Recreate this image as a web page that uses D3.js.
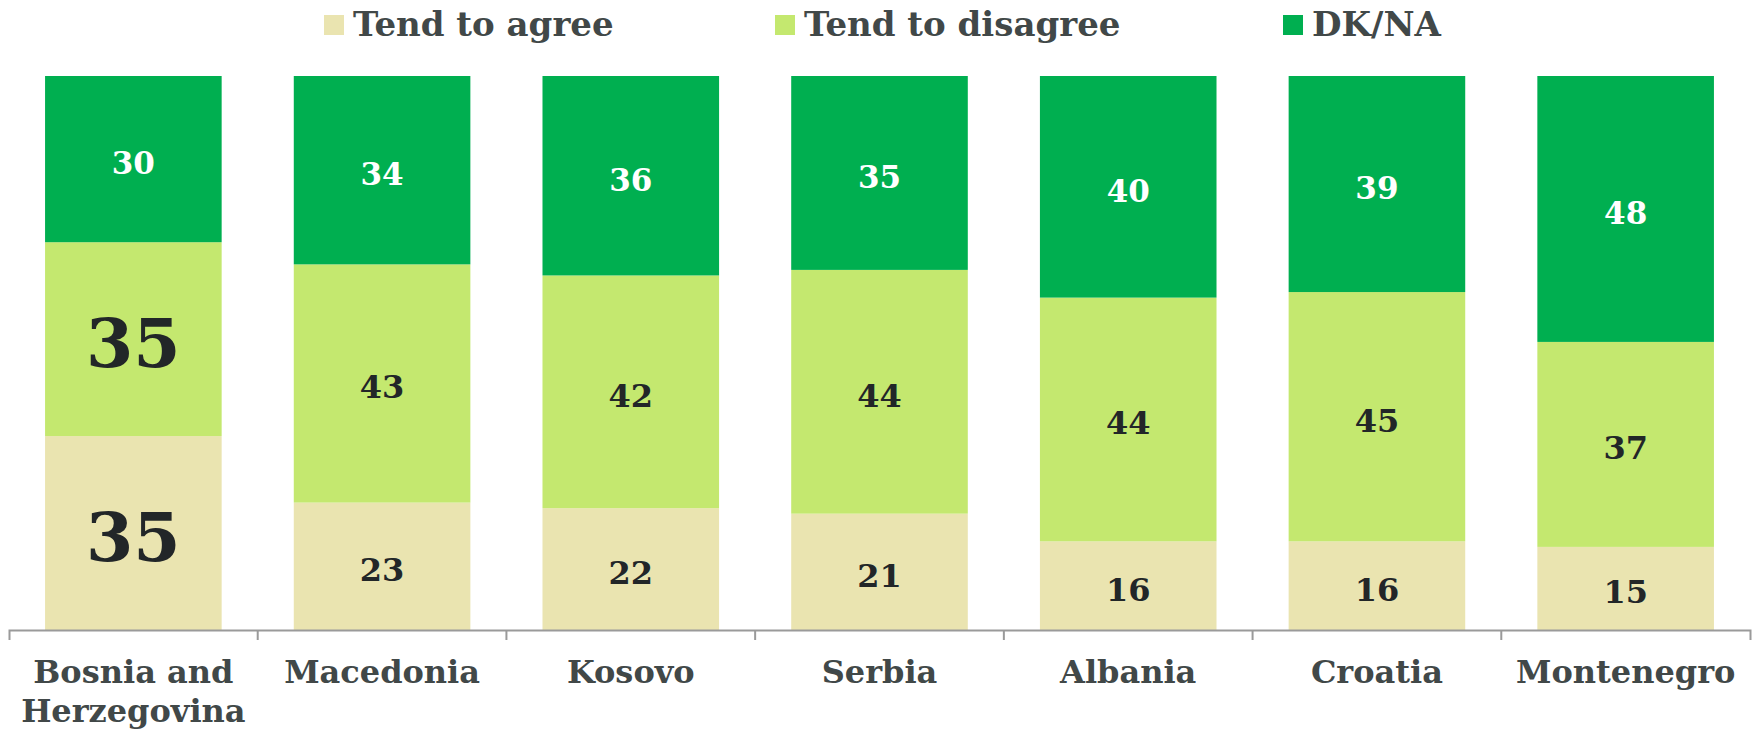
<!DOCTYPE html>
<html>
<head>
<meta charset="utf-8">
<script src="https://cdn.jsdelivr.net/npm/d3@7"></script>
<style>
  body { margin: 0; background: #fff; }
  svg text { font-family: "DejaVu Serif", "Liberation Serif", serif; font-weight: bold; }
</style>
</head>
<body>
<div id="chart"></div>
<script>
// categories and series values (percent)
var categories = ["Bosnia and Herzegovina", "Macedonia", "Kosovo", "Serbia", "Albania", "Croatia", "Montenegro"];
var tickLabels = [["Bosnia and", "Herzegovina"], ["Macedonia"], ["Kosovo"], ["Serbia"], ["Albania"], ["Croatia"], ["Montenegro"]];
var seriesNames = ["Tend to agree", "Tend to disagree", "DK/NA"];
var agree = [35, 23, 22, 21, 16, 16, 15];
var disagree = [35, 43, 42, 44, 44, 45, 37];
var dkna = [30, 34, 36, 35, 40, 39, 48];
var highlighted = "Bosnia and Herzegovina";

var colors = ["#eae4b0", "#c4e86f", "#00af50"];
var labelColors = ["#222628", "#222628", "#ffffff"];

var width = 1757, height = 730;
var margin = {top: 76, left: 9, right: 7, bottom: 100};
var baseline = height - margin.bottom;

var svg = d3.select("#chart")
    .append("svg")
    .attr("width", width)
    .attr("height", height);

// Reformat data for the stack
var data = [];
for (var i = 0; i < categories.length; i++) {
    data.push({cat: categories[i], s0: agree[i], s1: disagree[i], s2: dkna[i]});
}
var stack = d3.stack().keys(["s0", "s1", "s2"])(data);

var x = d3.scaleBand()
    .domain(categories)
    .range([margin.left, width - margin.right])
    .paddingInner(0.29)
    .paddingOuter(0.145);

var y = d3.scaleLinear()
    .domain([0, 100])
    .range([baseline, margin.top]);

// bars
var layers = svg.selectAll("g.layer")
    .data(stack)
    .enter().append("g")
    .attr("class", "layer")
    .attr("fill", function (d, i) { return colors[i]; });

layers.selectAll("rect")
    .data(function (d) { return d; })
    .enter().append("rect")
    .attr("x", function (d) { return x(d.data.cat); })
    .attr("y", function (d) { return y(d[1]); })
    .attr("width", x.bandwidth())
    .attr("height", function (d) { return y(d[0]) - y(d[1]); });

// value labels
stack.forEach(function (layer, li) {
    svg.append("g").selectAll("text")
        .data(layer)
        .enter().append("text")
        .attr("x", function (d) { return x(d.data.cat) + x.bandwidth() / 2; })
        .attr("y", function (d) { return (y(d[0]) + y(d[1])) / 2 + 4; })
        .attr("text-anchor", "middle")
        .attr("dominant-baseline", "central")
        .attr("fill", labelColors[li])
        .style("font-size", function (d) {
            if (d.data.cat === highlighted && li < 2) return "68px";
            return li === 2 ? "31px" : "32px";
        })
        .text(function (d) { return d[1] - d[0]; });
});

// X axis
var axis = svg.append("g")
    .attr("transform", "translate(0," + baseline + ")")
    .call(d3.axisBottom(x).tickSize(0).tickSizeOuter(10).tickFormat(""));
axis.select(".domain").attr("stroke", "#9a9a9a").attr("stroke-width", 2);

// tick marks between categories
var bounds = categories.slice(1).map(function (c) {
    return x(c) - x.step() * x.paddingInner() / 2;
});
axis.selectAll("line.sep")
    .data(bounds)
    .enter().append("line")
    .attr("class", "sep")
    .attr("x1", function (d) { return d; })
    .attr("x2", function (d) { return d; })
    .attr("y1", 0)
    .attr("y2", 10)
    .attr("stroke", "#9a9a9a")
    .attr("stroke-width", 2);

// category labels
var catLabels = svg.append("g").selectAll("text")
    .data(categories)
    .enter().append("text")
    .attr("x", function (d) { return x(d) + x.bandwidth() / 2; })
    .attr("y", baseline + 53)
    .attr("text-anchor", "middle")
    .attr("fill", "#414848")
    .style("font-size", "32px");
catLabels.selectAll("tspan")
    .data(function (d, i) { return tickLabels[i]; })
    .enter().append("tspan")
    .attr("x", function () { return d3.select(this.parentNode).attr("x"); })
    .attr("dy", function (d, i) { return i === 0 ? 0 : 39; })
    .text(function (d) { return d; });

// legend
var legendX = [324, 775, 1283];
var legend = svg.append("g").selectAll("g")
    .data(seriesNames)
    .enter().append("g")
    .attr("transform", function (d, i) { return "translate(" + legendX[i] + ",15)"; });
legend.append("rect")
    .attr("width", 20)
    .attr("height", 20)
    .attr("fill", function (d, i) { return colors[i]; });
legend.append("text")
    .attr("x", 29)
    .attr("y", 21)
    .attr("fill", "#414848")
    .style("font-size", "34px")
    .text(function (d) { return d; });
</script>
</body>
</html>
